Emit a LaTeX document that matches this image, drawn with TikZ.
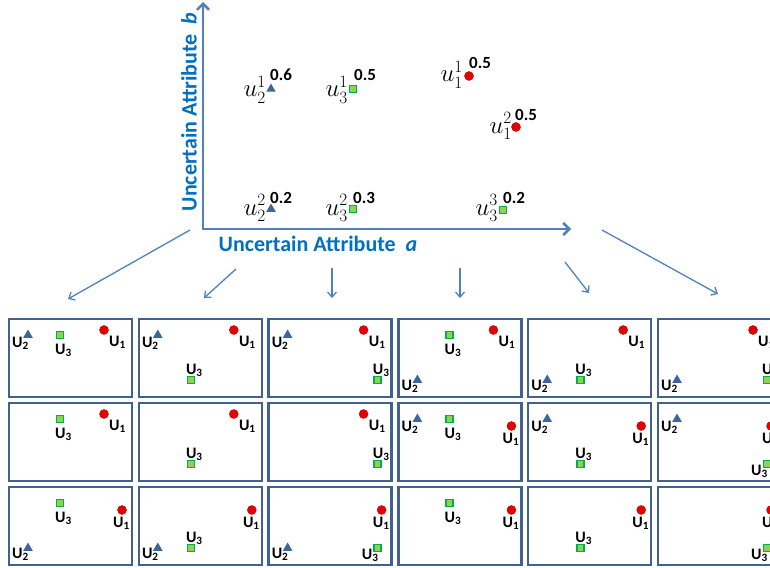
\documentclass[tikz,border=0pt]{standalone}
\usepackage[no-math]{fontspec}
\setmainfont{Carlito}
\usepackage{tikz}
\usetikzlibrary{arrows.meta,shapes.geometric}

\definecolor{axisblue}{HTML}{4F81BD}
\definecolor{textblue}{HTML}{0070C0}
\definecolor{boxblue}{HTML}{41618F}
\definecolor{triblue}{HTML}{3D659E}
\definecolor{dotred}{HTML}{E60000}
\definecolor{sqgreen}{HTML}{00B050}
\definecolor{sqlight}{HTML}{92D050}

\tikzset{
  world/.style={draw=boxblue, line width=2.5pt, minimum width=123pt, minimum height=78pt, inner sep=0pt, outer sep=0pt},
  reddot/.style={circle, fill=dotred, draw=dotred!80!black, line width=0.4pt, minimum size=9pt, inner sep=0pt},
  bluetri/.style={regular polygon, regular polygon sides=3, fill=triblue, minimum size=11pt, inner sep=0pt},
  greensq/.style={rectangle, fill=sqlight, draw=sqgreen, line width=1.6pt, minimum size=7pt, inner sep=0pt},
  ulab/.style={anchor=base west, inner sep=0pt, font=\fontsize{16}{16}\selectfont\bfseries},
  prob/.style={anchor=base west, inner sep=0pt, font=\fontsize{17}{17}\selectfont\bfseries},
  uval/.style={anchor=base east, inner sep=0pt, font=\fontsize{24}{24}\selectfont},
  axlab/.style={inner sep=0pt, text=textblue, font=\fontsize{22}{22}\selectfont\bfseries},
  axis/.style={draw=axisblue, line width=2.5pt, {Straight Barb[length=6pt,width=12pt]}-{Straight Barb[length=6pt,width=12pt]}},
  fan/.style={draw=axisblue, line width=1.3pt, -{Straight Barb[length=5pt,width=9pt]}}
}

% objects inside one world box (offsets from the box corner)
\newcommand{\oneTop}[1]{%
  \node[reddot] (#1-u1) at ([shift={(95,11)}]#1.north west) {};
  \node[ulab] (#1-l1) at ([shift={(5,16)}]#1-u1.center) {U\textsubscript{1}};}
\newcommand{\oneLow}[1]{%
  \node[reddot] (#1-u1) at ([shift={(113,23)}]#1.north west) {};
  \node[ulab] (#1-l1) at ([shift={(-9,17)}]#1-u1.center) {U\textsubscript{1}};}
\newcommand{\twoTop}[1]{%
  \node[bluetri] (#1-u2) at ([shift={(19,16)}]#1.north west) {};
  \node[ulab] (#1-l2) at ([shift={(-16,12)}]#1-u2.center) {U\textsubscript{2}};}
\newcommand{\twoBot}[1]{%
  \node[bluetri] (#1-u2) at ([shift={(19,61)}]#1.north west) {};
  \node[ulab] (#1-l2) at ([shift={(-16,10)}]#1-u2.center) {U\textsubscript{2}};}
\newcommand{\threeMid}[1]{%
  \node[greensq] (#1-u3) at ([shift={(51,16)}]#1.north west) {};
  \node[ulab] (#1-l3) at ([shift={(-5,19)}]#1-u3.center) {U\textsubscript{3}};}
\newcommand{\threeBot}[1]{%
  \node[greensq] (#1-u3) at ([shift={(52,61)}]#1.north west) {};
  \node[ulab] (#1-l3) at ([shift={(-5,-6)}]#1-u3.center) {U\textsubscript{3}};}
\newcommand{\threeRight}[1]{%
  \node[greensq] (#1-u3) at ([shift={(109,61)}]#1.north west) {};
  \node[ulab] (#1-l3) at ([shift={(-5,-6)}]#1-u3.center) {U\textsubscript{3}};}
\newcommand{\threeRightL}[1]{%
  \node[greensq] (#1-u3) at ([shift={(109,61)}]#1.north west) {};
  \node[ulab] (#1-l3) at ([shift={(-16,11)}]#1-u3.center) {U\textsubscript{3}};}

\begin{document}
\begin{tikzpicture}[x=1pt,y=-1pt]

\path[use as bounding box, clip] (0,0) rectangle (770,567);

% Axes
\coordinate (O) at (203,229);
\coordinate (ytop) at (203,2);
\coordinate (xend) at (571,229);
\draw[axis] (ytop) -- (O) -- (xend);
\node[axlab] (alab) at (318,244) {Uncertain Attribute\ \ \textit{a}};
\node[axlab, rotate=90] (blab) at (189,112) {Uncertain Attribute\ \ \textit{b}};

% Instances of the uncertain objects
\node[bluetri] (u21) at (271,89) {};
\node[uval] (u21-t) at (266,97) {$u_2^1$};
\node[prob] (u21-p) at (270,81) {0.6};
\node[greensq] (u31) at (353,89) {};
\node[uval] (u31-t) at (348,97) {$u_3^1$};
\node[prob] (u31-p) at (354,81) {0.5};
\node[reddot] (u11) at (469,76) {};
\node[uval] (u11-t) at (463,82) {$u_1^1$};
\node[prob] (u11-p) at (469,69) {0.5};
\node[reddot] (u12) at (516,127) {};
\node[uval] (u12-t) at (512,133) {$u_1^2$};
\node[prob] (u12-p) at (515,121) {0.5};
\node[bluetri] (u22) at (271,209) {};
\node[uval] (u22-t) at (266,215) {$u_2^2$};
\node[prob] (u22-p) at (270,203) {0.2};
\node[greensq] (u32) at (353,209) {};
\node[uval] (u32-t) at (348,215) {$u_3^2$};
\node[prob] (u32-p) at (353,203) {0.3};
\node[greensq] (u33) at (503,210) {};
\node[uval] (u33-t) at (498,215) {$u_3^3$};
\node[prob] (u33-p) at (503,203) {0.2};

% Arrows down to the possible worlds
\foreach \i/\sx/\sy/\ex/\ey in {1/190/230/68/299, 2/236/269/204/298, 3/332/268/332/298,
    4/460/268/460/298, 5/565/262/589/293, 6/602/230/718/294} {
  \coordinate (s\i) at (\sx,\sy);
  \coordinate (e\i) at (\ex,\ey);
  \draw[fan] (s\i) -- (e\i);
}

% Possible worlds
\foreach \c in {1,...,6}
  \foreach \r in {1,2,3}
    \node[world] (b\c\r) at ({70.5+129.8*(\c-1)},{358+84*(\r-1)}) {};

\oneTop{b11}\twoTop{b11}\threeMid{b11}
\oneTop{b21}\twoTop{b21}\threeBot{b21}
\oneTop{b31}\twoTop{b31}\threeRight{b31}
\oneTop{b41}\twoBot{b41}\threeMid{b41}
\oneTop{b51}\twoBot{b51}\threeBot{b51}
\oneTop{b61}\twoBot{b61}\threeRight{b61}

\oneTop{b12}\threeMid{b12}
\oneTop{b22}\threeBot{b22}
\oneTop{b32}\threeRight{b32}
\oneLow{b42}\twoTop{b42}\threeMid{b42}
\oneLow{b52}\twoTop{b52}\threeBot{b52}
\oneLow{b62}\twoTop{b62}\threeRightL{b62}

\oneLow{b13}\twoBot{b13}\threeMid{b13}
\oneLow{b23}\twoBot{b23}\threeBot{b23}
\oneLow{b33}\twoBot{b33}\threeRightL{b33}
\oneLow{b43}\threeMid{b43}
\oneLow{b53}\threeBot{b53}
\oneLow{b63}\threeRightL{b63}

\end{tikzpicture}
\end{document}
